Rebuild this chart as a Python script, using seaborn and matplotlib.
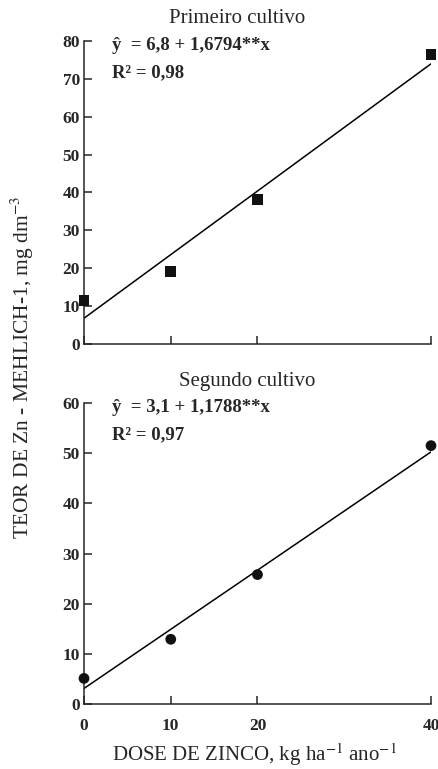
import matplotlib
matplotlib.use("Agg")
import matplotlib.pyplot as plt
import seaborn as sns
import numpy as np
import pandas as pd

# Data
dose = [0, 10, 20, 40]
teor_primeiro = [11.5, 19.1, 38.2, 76.4]
teor_segundo = [5.1, 12.9, 25.8, 51.5]
fit_primeiro = (6.8, 1.6794)
fit_segundo = (3.1, 1.1788)
eq_primeiro = ["ŷ  = 6,8 + 1,6794**x", "R² = 0,98"]
eq_segundo = ["ŷ  = 3,1 + 1,1788**x", "R² = 0,97"]
x_ticks = [0, 10, 20, 40]

sns.set_style("ticks")
plt.rcParams["font.family"] = ["Liberation Serif", "DejaVu Serif"]
plt.rcParams["mathtext.fontset"] = "stix"

fig = plt.figure(figsize=(4.39, 7.69), dpi=100)
ax1 = fig.add_axes([84 / 439, 1 - 344 / 769, 347 / 439, 303 / 769])
ax2 = fig.add_axes([84 / 439, 1 - 704 / 769, 347 / 439, 301 / 769])


def panel(ax, y, fit, marker, ylim, yticks, title, title_x, eq, show_xlabels):
    df = pd.DataFrame({"dose": dose, "teor": y})
    xs = np.array([dose[0], dose[-1]])
    line = pd.DataFrame({"dose": xs, "teor": fit[0] + fit[1] * xs})
    sns.lineplot(data=line, x="dose", y="teor", color="black", lw=1.1, ax=ax)
    sns.scatterplot(data=df, x="dose", y="teor", marker=marker, s=60,
                    color="#111111", edgecolor="none", ax=ax, clip_on=False, zorder=5)
    ax.set_xlim(0, 40)
    ax.set_ylim(*ylim)
    ax.set_xticks(x_ticks)
    ax.set_yticks(yticks)
    ax.set_xlabel("")
    ax.set_ylabel("")
    ax.tick_params(axis="both", direction="in", length=6, width=1.1, labelsize=12.5)
    ax.tick_params(axis="y", pad=3)
    ax.tick_params(axis="x", pad=10)
    for lab in ax.get_xticklabels() + ax.get_yticklabels():
        lab.set_fontweight("bold")
    if not show_xlabels:
        ax.set_xticklabels([])
    for side in ["top", "right"]:
        ax.spines[side].set_visible(False)
    for side in ["left", "bottom"]:
        ax.spines[side].set_linewidth(1.1)
    ax.text(title_x, 1.073, title, transform=ax.transAxes, ha="center",
            va="center", fontsize=15)
    ax.text(0.08, 0.985, eq[0], transform=ax.transAxes, ha="left",
            va="center", fontsize=13.5, fontweight="bold")
    ax.text(0.08, 0.895, eq[1], transform=ax.transAxes, ha="left",
            va="center", fontsize=13.5, fontweight="bold")


panel(ax1, teor_primeiro, fit_primeiro, "s", (0, 80), range(0, 81, 10),
      "Primeiro cultivo", 0.44, eq_primeiro, False)
panel(ax2, teor_segundo, fit_segundo, "o", (0, 60), range(0, 61, 10),
      "Segundo cultivo", 0.47, eq_segundo, True)

fig.text(22 / 439, 1 - 367 / 769, r"TEOR DE Zn - MEHLICH-1, mg dm$^{-3}$",
         rotation=90, ha="center", va="center", fontsize=15.5)
fig.text(254 / 439, 8 / 769, r"DOSE DE ZINCO, kg ha$^{-1}$ ano$^{-1}$",
         ha="center", va="baseline", fontsize=15)

fig.savefig("out.png", dpi=100)
